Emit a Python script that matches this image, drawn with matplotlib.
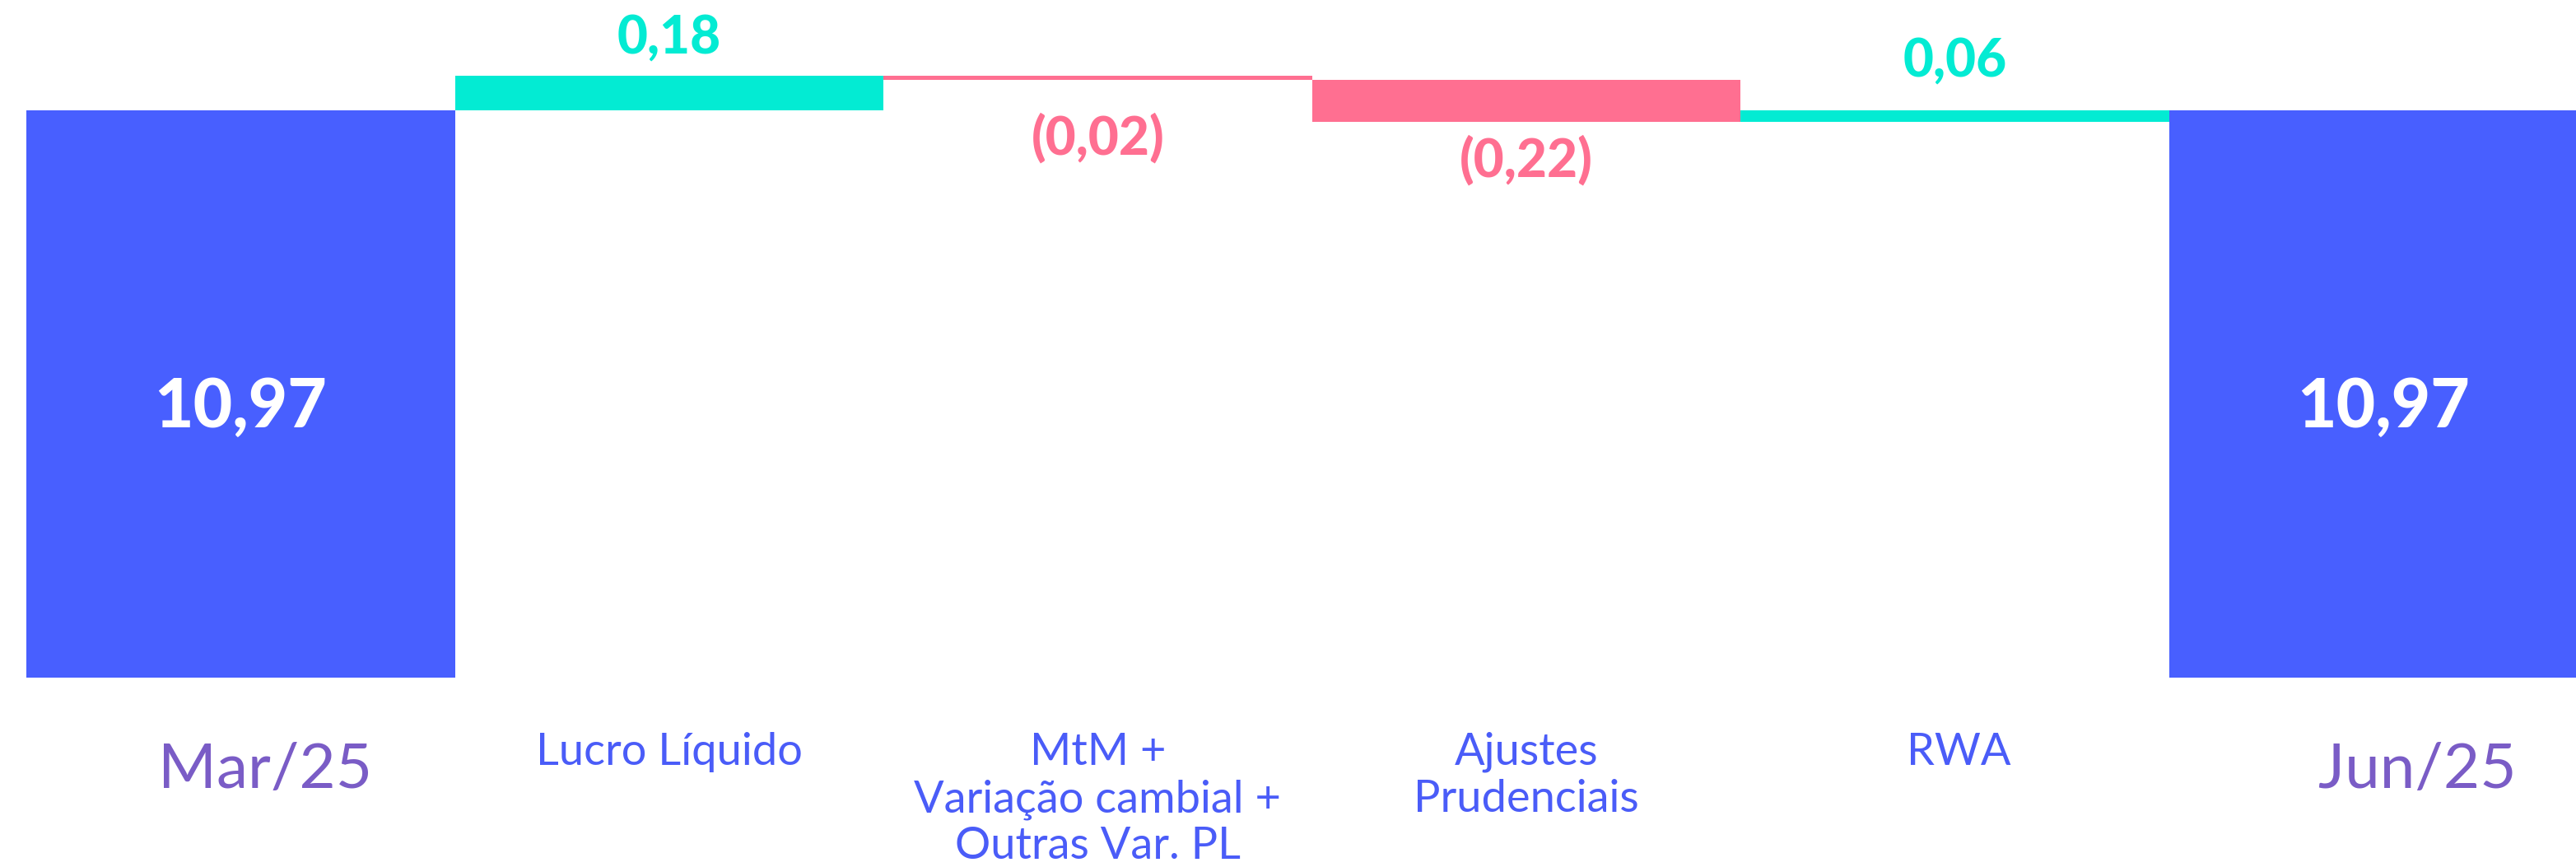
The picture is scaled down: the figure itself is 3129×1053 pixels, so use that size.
import matplotlib
matplotlib.use("Agg")
import matplotlib.pyplot as plt
import matplotlib.transforms as mtransforms

# Waterfall data: opening and closing totals plus the intermediate moves
categories = ["Mar/25", "Lucro Líquido", "MtM +\nVariação cambial +\nOutras Var. PL",
              "Ajustes\nPrudenciais", "RWA", "Jun/25"]
start_value = 10.97
deltas = [0.18, -0.02, -0.22, 0.06]
end_value = 10.97

BLUE = "#485FFF"
TEAL = "#03EBD3"
PINK = "#FF6F91"
LABEL_BLUE = "#4A5CF8"
LABEL_PURPLE = "#7A5CC6"

FONT = "Lato"
NUM_WEIGHT = "black"

def fmt(v):
    s = f"{abs(v):.2f}".replace(".", ",")
    return f"({s})" if v < 0 else s

fig = plt.figure(figsize=(31.29, 10.53), dpi=100)
ax = fig.add_axes([0, 1 - 823 / 1053, 1, 823 / 1053])
ax.set_xlim(-0.5615, 5.45)
ax.set_ylim(7.98, 11.551)
ax.axis("off")

# totals
n = len(categories)
ax.bar([0, n - 1], [start_value, end_value], width=1.0, color=BLUE, linewidth=0)

# floating steps
running = start_value
step_x = list(range(1, n - 1))
for x, d in zip(step_x, deltas):
    color = TEAL if d >= 0 else PINK
    ax.bar(x, d, bottom=running, width=1.0, color=color, linewidth=0)
    center = running + d / 2
    offset = 34 if d >= 0 else -66.5
    ax.annotate(fmt(d), (x, center), xytext=(0, offset), textcoords="offset points",
                ha="center", va="baseline", color=color, fontsize=46,
                fontweight=NUM_WEIGHT, family=FONT)
    running += d

# total labels inside the blue bars
ybot = ax.get_ylim()[0]
for x, v in [(0, start_value), (n - 1, end_value)]:
    ax.annotate(fmt(v), (x, (ybot + v) / 2), xytext=(0, -29), textcoords="offset points",
                ha="center", va="baseline", color="white", fontsize=59,
                fontweight=NUM_WEIGHT, family=FONT)

# category labels under the chart, drawn line by line
trans = mtransforms.blended_transform_factory(ax.transData, fig.transFigure)
label_x = [0.057, 1.0, 2.0, 3.0, 4.01, 5.08]
for i, (lx, cat) in enumerate(zip(label_x, categories)):
    is_total = i in (0, n - 1)
    if is_total:
        base, size, color = 1 - 957 / 1053, 55, LABEL_PURPLE
    else:
        base, size, color = 1 - 929 / 1053, 39, LABEL_BLUE
    for j, line in enumerate(cat.split("\n")):
        fig.text(lx, base - j * 57 / 1053, line, transform=trans, ha="center",
                 va="baseline", fontsize=size, color=color, family=FONT)

fig.savefig("out.png", dpi=100, facecolor="white")
